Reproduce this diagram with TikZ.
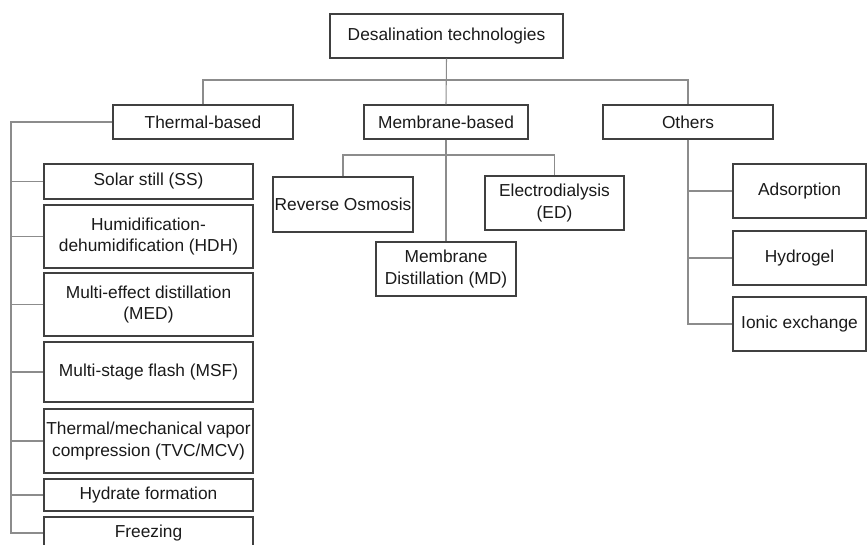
\documentclass[tikz,border=0pt]{standalone}
\usepackage{fontspec}
\setmainfont{Liberation Sans}
\definecolor{boxline}{HTML}{404040}
\definecolor{connline}{HTML}{8C8C8C}
\definecolor{txt}{HTML}{1A1A1A}
\tikzset{
  box/.style={draw=boxline, line width=0.9pt, inner sep=0pt, align=center,
              text=txt, font=\fontsize{13}{16}\selectfont, anchor=center},
  conn/.style={draw=connline, line width=0.8pt}
}
% \bx{name}{x1}{y1}{x2}{y2}{text}
\newcommand{\bx}[6]{%
  \node[box, minimum width={(#4-#2)*0.75pt}, minimum height={(#5-#3)*0.75pt}]
    (#1) at ({(#2+#4)/2},{(#3+#5)/2}) {#6};}
\begin{document}
\begin{tikzpicture}[x=0.75pt,y=-0.75pt]
\useasboundingbox (0,0) rectangle (867,544);
\begin{scope}
\clip (0,0) rectangle (867,544);
% top level
\bx{top}{330}{14}{563}{58}{Desalination technologies}
\bx{thermal}{113}{105}{293}{139}{Thermal-based}
\bx{membrane}{364}{105}{528}{139}{Membrane-based}
\bx{others}{603}{105}{773}{139}{Others}
\coordinate (bus) at (0,80);
\draw[conn] (top.south) -- (membrane.north);
\draw[conn] (thermal.north) |- (others.north |- bus) -- (others.north);
% thermal children
\bx{ss}{44}{164}{253}{199}{Solar still (SS)}
\bx{hdh}{44}{205}{253}{268}{Humidification-\\dehumidification (HDH)}
\bx{med}{44}{273}{253}{336}{Multi-effect distillation\\(MED)}
\bx{msf}{44}{342}{253}{402}{Multi-stage flash (MSF)}
\bx{tvc}{44}{409}{253}{473}{Thermal/mechanical vapor\\compression (TVC/MCV)}
\bx{hyd}{44}{479}{253}{511}{Hydrate formation}
\bx{frz}{44}{517}{253}{549}{Freezing}
\coordinate (spine) at (11,0);
\draw[conn] (thermal.west) -| (spine |- frz.west) -- (frz.west);
\foreach \n in {ss,hdh,med,msf,tvc,hyd}
  \draw[conn] (spine |- \n.west) -- (\n.west);
% membrane children
\bx{ro}{273}{177}{413}{232}{Reverse Osmosis}
\bx{ed}{485}{176}{624}{230}{Electrodialysis\\(ED)}
\bx{md}{376}{242}{516}{296}{Membrane\\Distillation (MD)}
\coordinate (mbus) at (0,155);
\draw[conn] (membrane.south) -- (md.north);
\draw[conn] (ro.north) |- (ed.north |- mbus) -- (ed.north);
% others children
\bx{ads}{733}{164}{866}{218}{Adsorption}
\bx{hydro}{733}{231}{866}{285}{Hydrogel}
\bx{ion}{733}{297}{866}{351}{Ionic exchange}
\draw[conn] (others.south) |- (ion.west);
\draw[conn] (others.south |- ads.west) -- (ads.west);
\draw[conn] (others.south |- hydro.west) -- (hydro.west);
\end{scope}
\end{tikzpicture}
\end{document}
